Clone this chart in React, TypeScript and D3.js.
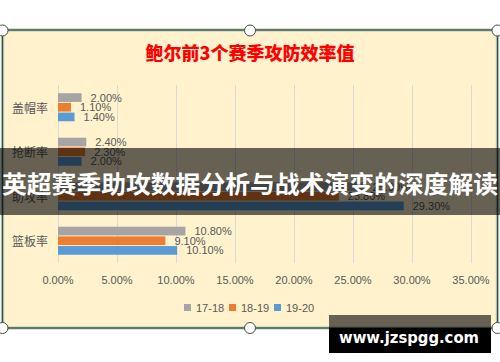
import React from "react";
import * as d3 from "d3";

const categories = ["盖帽率", "抢断率", "助攻率", "篮板率"];
const seriesNames = ["17-18", "18-19", "19-20"];
const season1718 = [2.0, 2.4, 25.9, 10.8];
const season1819 = [1.1, 2.3, 23.8, 9.1];
const season1920 = [1.4, 2.0, 29.3, 10.1];
const seriesColors = ["#a5a5a5", "#ed7d31", "#5b9bd5"];
const xTicks = [0, 5, 10, 15, 20, 25, 30, 35];
const title = "鲍尔前3个赛季攻防效率值";
const bannerText = "英超赛季助攻数据分析与战术演变的深度解读";
const watermark = "www.jzspgg.com";

const W = 500;
const H = 362;

export default function App() {
  const series = [season1718, season1819, season1920];
  const x = d3.scaleLinear().domain([0, 35]).range([58, 471]);
  const y0 = d3
    .scaleBand<string>()
    .domain(categories)
    .range([85, 263])
    .paddingInner(0.37)
    .paddingOuter(0.185);
  const y1 = d3
    .scaleBand<string>()
    .domain(seriesNames)
    .range([0, y0.bandwidth()])
    .paddingInner(0.1);
  const fmt = (v: number) => v.toFixed(2) + "%";
  const labelFont = "'Liberation Sans', Arial, sans-serif";
  const cjkFont = "'Noto Sans CJK SC', sans-serif";
  const legendX = d3.scalePoint<string>().domain(seriesNames).range([184, 274]);

  const handles: [number, number][] = [
    [2.5, 30.5],
    [250, 30.5],
    [497.5, 30.5],
    [2.5, 328],
    [250, 328],
    [497.5, 328],
  ];

  return (
    <svg
      width={W}
      height={H}
      style={{ position: "absolute", left: 0, top: 0, background: "#ffffff" }}
    >
      <rect x={0} y={0} width={W} height={H} fill="#ffffff" />
      {/* panel */}
      <rect
        x={2.5}
        y={30}
        width={495}
        height={298}
        fill="#fff2cc"
        stroke="#c3dbc6"
        strokeWidth={3.5}
      />
      <rect
        x={2.5}
        y={30}
        width={495}
        height={298}
        fill="none"
        stroke="#3f4e44"
        strokeWidth={1.4}
      />
      {/* title */}
      <text
        x={250}
        y={52}
        textAnchor="middle"
        dominantBaseline="central"
        fontFamily={cjkFont}
        fontWeight={900}
        fontSize={18}
        fill="#ff0000"
      >
        {title}
      </text>
      {/* grid */}
      {xTicks.map((t) => (
        <line
          key={"g" + t}
          x1={x(t) + 0.5}
          x2={x(t) + 0.5}
          y1={85}
          y2={263}
          stroke="#d9d9d9"
          strokeWidth={1}
        />
      ))}
      {/* bars */}
      {categories.map((c, ci) => (
        <g key={c} transform={`translate(0,${y0(c)})`}>
          {series.map((s, si) => (
            <rect
              key={si}
              x={x(0)}
              y={y1(seriesNames[si])}
              width={x(s[ci]) - x(0)}
              height={y1.bandwidth()}
              fill={seriesColors[si]}
            />
          ))}
          {series.map((s, si) => (
            <text
              key={"l" + si}
              x={x(s[ci]) + 9}
              y={(y1(seriesNames[si]) as number) + y1.bandwidth() / 2}
              dominantBaseline="central"
              fontFamily={labelFont}
              fontSize={11}
              fill="#595959"
            >
              {fmt(s[ci])}
            </text>
          ))}
        </g>
      ))}
      {/* category labels */}
      {categories.map((c) => (
        <text
          key={"c" + c}
          x={48}
          y={(y0(c) as number) + y0.bandwidth() / 2}
          textAnchor="end"
          dominantBaseline="central"
          fontFamily={cjkFont}
          fontSize={12}
          fill="#595959"
        >
          {c}
        </text>
      ))}
      {/* x tick labels */}
      {xTicks.map((t) => (
        <text
          key={"t" + t}
          x={x(t)}
          y={279.5}
          textAnchor="middle"
          dominantBaseline="central"
          fontFamily={labelFont}
          fontSize={11}
          fill="#595959"
        >
          {fmt(t)}
        </text>
      ))}
      {/* legend */}
      {seriesNames.map((n, i) => (
        <g key={"lg" + n} transform={`translate(${legendX(n)},304)`}>
          <rect x={0} y={0} width={7} height={7} fill={seriesColors[i]} />
          <text
            x={12}
            y={3.8}
            dominantBaseline="central"
            fontFamily={labelFont}
            fontSize={11}
            fill="#595959"
          >
            {n}
          </text>
        </g>
      ))}
      {/* selection handles */}
      {handles.map(([hx, hy], i) => (
        <circle
          key={"h" + i}
          cx={hx}
          cy={hy}
          r={5.5}
          fill="#ffffff"
          stroke="#3f4e44"
          strokeWidth={1}
        />
      ))}
      {/* banner overlay */}
      <rect x={0} y={148} width={W} height={67} fill="rgba(0,0,0,0.6)" />
      <text
        x={250}
        y={182}
        textAnchor="middle"
        dominantBaseline="central"
        fontFamily={cjkFont}
        fontWeight={700}
        fontSize={24}
        fill="#ffffff"
        textLength={496}
        lengthAdjust="spacingAndGlyphs"
      >
        {bannerText}
      </text>
      {/* watermark */}
      <rect x={329} y={315} width={162} height={13} fill="rgba(0,0,0,0.6)" />
      <rect x={329} y={328} width={162} height={25} fill="#000000" />
      <text
        x={409}
        y={343}
        textAnchor="middle"
        fontFamily="'DejaVu Sans', sans-serif"
        fontWeight={700}
        fontSize={15}
        fill="#ffffff"
        textLength={140}
        lengthAdjust="spacingAndGlyphs"
      >
        {watermark}
      </text>
    </svg>
  );
}
